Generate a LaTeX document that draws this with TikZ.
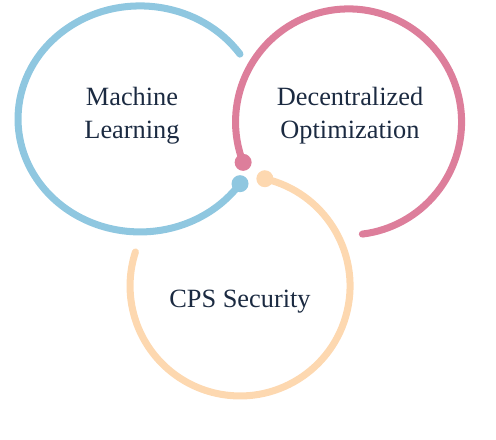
\documentclass[tikz,border=0pt]{standalone}
\usepackage{fontspec}
\setmainfont{Liberation Serif}
\usepackage{tikz}
\usetikzlibrary{positioning}
\definecolor{mlblue}{HTML}{8FC7E0}
\definecolor{dopink}{HTML}{DD7E9B}
\definecolor{cpspeach}{HTML}{FDD8B0}
\definecolor{inkblue}{HTML}{1B2A41}

\begin{document}
\begin{tikzpicture}[scale=0.02,
  ring/.style={line width=4pt,line cap=round},
  knob/.style={circle,inner sep=0pt,minimum size=0.34cm},
  topic/.style={align=center,text=inkblue,font=\fontsize{15}{18.7}\selectfont}]

\useasboundingbox (0,0) rectangle (496,440);

\coordinate (mlc) at (140,321);
\coordinate (doc) at (348.5,318);
\coordinate (cpsc) at (240,154);

\draw[ring,mlblue] (mlc) ++(35:122 and 113) arc[start angle=35,end angle=325,x radius=122,y radius=113] coordinate (mlend);
\draw[ring,dopink] (doc) ++(201:113) coordinate (doend) arc[start angle=201,end angle=-83,radius=113];
\draw[ring,cpspeach] (cpsc) ++(77:110) coordinate (cpsend) arc[start angle=77,end angle=-198,radius=110];

\node[knob,fill=mlblue] (mlknob) at (mlend) {};
\node[knob,fill=dopink] (doknob) at (doend) {};
\node[knob,fill=cpspeach] (cpsknob) at (cpsend) {};

\node[topic] (ml) at (132,324) {Machine\\Learning};
\node[topic] (dopt) at (350,324) {Decentralized\\Optimization};
\node[topic] (cps) at (240,138) {CPS Security};

\end{tikzpicture}
\end{document}
